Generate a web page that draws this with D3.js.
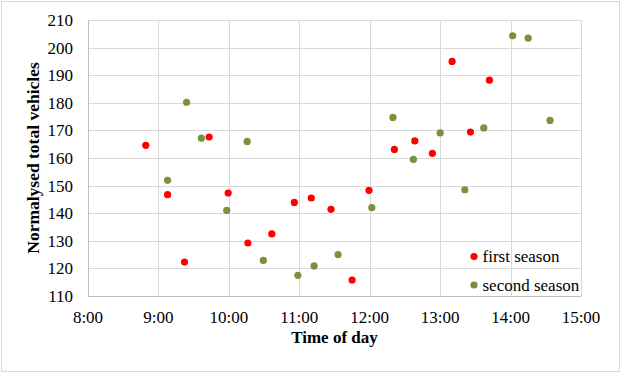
<!DOCTYPE html>
<meta charset="utf-8">
<style>
body { margin: 0; background: #fff; }
text { font-family: "Liberation Serif", "Times New Roman", serif; }
</style>
<svg></svg>
<script src="https://d3js.org/d3.v7.min.js"></script>
<script>
var width = 621,
    height = 373;

// time of day in decimal hours, normalised totals
var firstTimes = [8.82, 9.13, 9.37, 9.72, 9.99, 10.27, 10.61, 10.93, 11.17, 11.45, 11.75, 11.99, 12.35, 12.64, 12.89, 13.17, 13.43, 13.70];
var firstValues = [164.6, 146.7, 122.3, 167.6, 147.3, 129.2, 132.5, 143.9, 145.5, 141.4, 115.8, 148.3, 163.1, 166.2, 161.7, 195.0, 169.4, 188.2];

var secondTimes = [9.13, 9.40, 9.61, 9.97, 10.26, 10.49, 10.98, 11.21, 11.55, 12.03, 12.33, 12.62, 13.00, 13.35, 13.62, 14.03, 14.25, 14.56];
var secondValues = [151.9, 180.2, 167.2, 141.0, 166.0, 122.9, 117.5, 120.9, 125.0, 142.0, 174.7, 159.5, 169.1, 148.5, 170.9, 204.3, 203.4, 173.6];

var xTicks = [8, 9, 10, 11, 12, 13, 14, 15];
var yTicks = [110, 120, 130, 140, 150, 160, 170, 180, 190, 200, 210];

var seriesNames = ["first season", "second season"];
var seriesColors = ["#ff0000", "#77933c"];

var margin = {left: 88, right: 40, top: 20, bottom: 77};

var x = d3.scaleLinear().domain([8, 15]).range([margin.left, width - margin.right]);
var y = d3.scaleLinear().domain([110, 210]).range([height - margin.bottom, margin.top]);

var svg = d3.select("svg")
    .attr("width", width)
    .attr("height", height);

svg.append("rect")
    .attr("x", 1.5).attr("y", 1.5)
    .attr("width", width - 3).attr("height", height - 3)
    .attr("fill", "#fff")
    .attr("stroke", "#d9d9d9");

// gridlines
svg.append("g").selectAll("line").data(yTicks).enter().append("line")
    .attr("x1", x(8)).attr("x2", x(15))
    .attr("y1", function(d) { return Math.round(y(d)) + 0.5; })
    .attr("y2", function(d) { return Math.round(y(d)) + 0.5; })
    .attr("stroke", function(d) { return d === 110 ? "#bfbfbf" : "#d9d9d9"; });

svg.append("g").selectAll("line").data(xTicks).enter().append("line")
    .attr("y1", y(110)).attr("y2", y(210))
    .attr("x1", function(d) { return Math.round(x(d)) + 0.5; })
    .attr("x2", function(d) { return Math.round(x(d)) + 0.5; })
    .attr("stroke", function(d) { return d === 8 ? "#bfbfbf" : "#d9d9d9"; });

// tick labels
svg.append("g").selectAll("text").data(yTicks).enter().append("text")
    .attr("x", x(8) - 15)
    .attr("y", function(d) { return y(d); })
    .attr("dy", "0.35em")
    .attr("text-anchor", "end")
    .attr("font-size", "17px")
    .attr("fill", "#000")
    .text(function(d) { return d; });

svg.append("g").selectAll("text").data(xTicks).enter().append("text")
    .attr("x", function(d) { return x(d); })
    .attr("y", y(110) + 27)
    .attr("text-anchor", "middle")
    .attr("font-size", "17px")
    .attr("fill", "#000")
    .text(function(d) { return d + ":00"; });

// axis titles
svg.append("text")
    .attr("x", (x(8) + x(15)) / 2)
    .attr("y", 343)
    .attr("text-anchor", "middle")
    .attr("font-size", "17px")
    .attr("font-weight", "bold")
    .text("Time of day");

svg.append("text")
    .attr("transform", "translate(39," + ((y(110) + y(210)) / 2) + ") rotate(-90)")
    .attr("text-anchor", "middle")
    .attr("font-size", "17.5px")
    .attr("font-weight", "bold")
    .text("Normalysed total vehicles");

// points
var series = [
  {times: firstTimes, values: firstValues},
  {times: secondTimes, values: secondValues}
];

series.forEach(function(s, i) {
  svg.append("g").selectAll("circle").data(d3.range(s.times.length)).enter().append("circle")
      .attr("cx", function(j) { return x(s.times[j]); })
      .attr("cy", function(j) { return y(s.values[j]); })
      .attr("r", 3.6)
      .attr("fill", seriesColors[i]);
});

// legend
var legend = svg.append("g").selectAll("g").data(seriesNames).enter().append("g")
    .attr("transform", function(d, i) { return "translate(474," + (256.5 + i * 28.5) + ")"; });

legend.append("circle")
    .attr("r", 3.6)
    .attr("fill", function(d, i) { return seriesColors[i]; });

legend.append("text")
    .attr("x", 8.5)
    .attr("dy", "0.35em")
    .attr("font-size", "17px")
    .text(function(d) { return d; });
</script>
